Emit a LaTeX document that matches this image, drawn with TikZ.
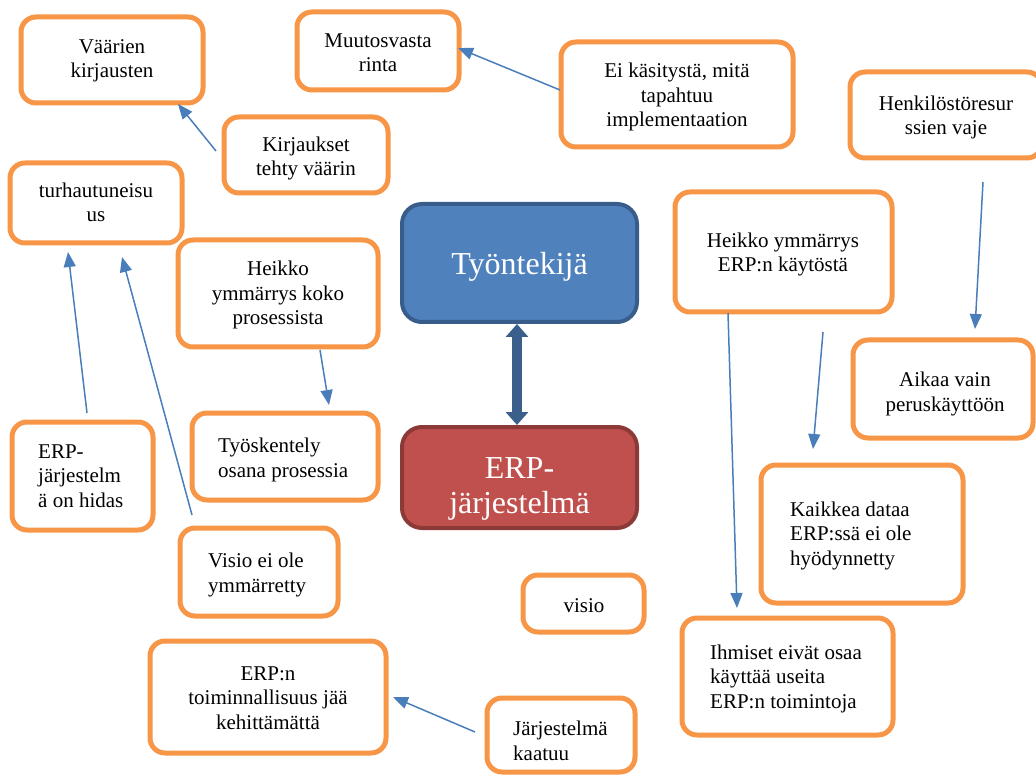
\documentclass[tikz,border=0pt]{standalone}
\usepackage{fontspec}
\setmainfont{Liberation Serif}
\usetikzlibrary{arrows.meta,fit}
\definecolor{boxorange}{HTML}{F79646}
\definecolor{arrblue}{HTML}{4A7EBB}
\definecolor{mainblue}{HTML}{4F81BD}
\definecolor{mainblueborder}{HTML}{385D8A}
\definecolor{mainred}{HTML}{C0504D}
\definecolor{mainredborder}{HTML}{8C3A38}
\definecolor{dblarrow}{HTML}{3A5F8B}
\begin{document}
\begin{tikzpicture}[x=1pt,y=-1pt,
  box/.style={draw=boxorange,line width=5pt,rounded corners=15pt,fill=white,inner sep=0pt},
  mainbox/.style={line width=4pt,rounded corners=20pt,inner sep=0pt},
  txt/.style={inner sep=0pt,align=center,font=\fontsize{21}{24.5}\selectfont},
  ltxt/.style={inner sep=0pt,align=left,font=\fontsize{21}{24.5}\selectfont},
  bigtxt/.style={inner sep=0pt,align=center,text=white,font=\fontsize{32}{35}\selectfont},
  conn/.style={draw=arrblue,line width=1.5pt,-{Triangle[length=15pt,width=12pt]}}]
\path[use as bounding box] (0,0) rectangle (1036,775);
\clip (0,0) rectangle (1036,775);
% boxes (text nodes anchored at the baseline of their last line)
\node[box,fit={(21,17) (203,103)}] (vaarien) {};
\node[txt,anchor=base] (vaarient) at (112,78) {Väärien\\kirjausten};
\node[box,fit={(297,12) (459,90)}] (muutos) {};
\node[txt,anchor=base] (muutost) at (378,72) {Muutosvasta\\rinta};
\node[box,fit={(561,42) (793,147)}] (ei) {};
\node[txt,anchor=base] (eit) at (677,127) {Ei käsitystä, mitä\\tapahtuu\\implementaation};
\node[box,fit={(850,72) (1042,158)}] (henk) {};
\node[txt,anchor=base] (henkt) at (946,135) {Henkilöstöresur\\ssien vaje};
\node[box,fit={(224,117) (388,193)}] (kirj) {};
\node[txt,anchor=base] (kirjt) at (306,176) {Kirjaukset\\tehty väärin};
\node[box,fit={(10,163) (182,243)}] (turh) {};
\node[txt,anchor=base] (turht) at (96,222) {turhautuneisu\\us};
\node[box,fit={(178,240) (378,347)}] (heikkoko) {};
\node[txt,anchor=base] (heikkokot) at (278,325) {Heikko\\ymmärrys koko\\prosessista};
\node[box,fit={(675,192) (892,312)}] (heikkoerp) {};
\node[txt,anchor=base] (heikkoerpt) at (783,272) {Heikko ymmärrys\\ERP:n käytöstä};
\node[box,fit={(853,340) (1033,438)}] (aikaa) {};
\node[txt,anchor=base] (aikaat) at (945,411) {Aikaa vain\\peruskäyttöön};
\node[box,fit={(192,413) (378,500)}] (tyosk) {};
\node[ltxt,anchor=base west] (tyoskt) at (218,477) {Työskentely\\osana prosessia};
\node[box,fit={(12,422) (153,530)}] (hidas) {};
\node[ltxt,anchor=base west] (hidast) at (38,507) {ERP-\\järjestelm\\ä on hidas};
\node[box,fit={(180,528) (338,616)}] (visioei) {};
\node[ltxt,anchor=base west] (visioeit) at (208,592) {Visio ei ole\\ymmärretty};
\node[box,fit={(761,465) (963,603)}] (kaikkea) {};
\node[ltxt,anchor=base west] (kaikkeat) at (790,565) {Kaikkea dataa\\ERP:ssä ei ole\\hyödynnetty};
\node[box,fit={(523,575) (644,632)}] (visio) {};
\node[txt,anchor=base] (visiot) at (584,612) {visio};
\node[box,fit={(682,618) (893,735)}] (ihmiset) {};
\node[ltxt,anchor=base west] (ihmisett) at (710,708) {Ihmiset eivät osaa\\käyttää useita\\ERP:n toimintoja};
\node[box,fit={(150,641) (386,753)}] (toimin) {};
\node[txt,anchor=base] (tomint) at (268,729) {ERP:n\\toiminnallisuus jää\\kehittämättä};
\node[box,fit={(487,698) (635,772)}] (kaatuu) {};
\node[ltxt,anchor=base west] (kaatuut) at (513,760) {Järjestelmä\\kaatuu};
% main boxes
\node[mainbox,draw=mainblueborder,fill=mainblue,fit={(402,204) (637,322)}] (tyo) {};
\node[bigtxt,anchor=base] (tyot) at (519.5,275) {Työntekijä};
\node[mainbox,draw=mainredborder,fill=mainred,fit={(402,427) (637,528)}] (erp) {};
\node[bigtxt,anchor=base] (erpt) at (519.5,513) {ERP-\\järjestelmä};
% double arrow
\draw[draw=dblarrow,line width=10pt,{Triangle[length=13pt,width=22pt]}-{Triangle[length=13pt,width=22pt]}] ([xshift=-2.5pt]tyo.south) -- ([xshift=-2.5pt]erp.north);
% connector coordinates
\coordinate (b1) at (216,151); \coordinate (b2) at (178,104);
\coordinate (c1) at (87,413);  \coordinate (c2) at (68,252);
\coordinate (d1) at (192,515); \coordinate (d2) at (122,257);
\coordinate (e1) at (320,350); \coordinate (e2) at (329,405);
\coordinate (f1) at (983,182); \coordinate (f2) at (975,329);
\coordinate (g1) at (823,332); \coordinate (g2) at (813,449);
\coordinate (h1) at (728,313); \coordinate (h2) at (737,608);
\coordinate (i1) at (475,732); \coordinate (i2) at (393,697);
\coordinate (a1) at (560,90);  \coordinate (a2) at (458,48);
% connectors
\draw[conn] (a1) -- (a2);
\draw[conn] (b1) -- (b2);
\draw[conn] (c1) -- (c2);
\draw[conn] (d1) -- (d2);
\draw[conn] (e1) -- (e2);
\draw[conn] (f1) -- (f2);
\draw[conn] (g1) -- (g2);
\draw[conn] (h1) -- (h2);
\draw[conn] (i1) -- (i2);
\end{tikzpicture}
\end{document}
